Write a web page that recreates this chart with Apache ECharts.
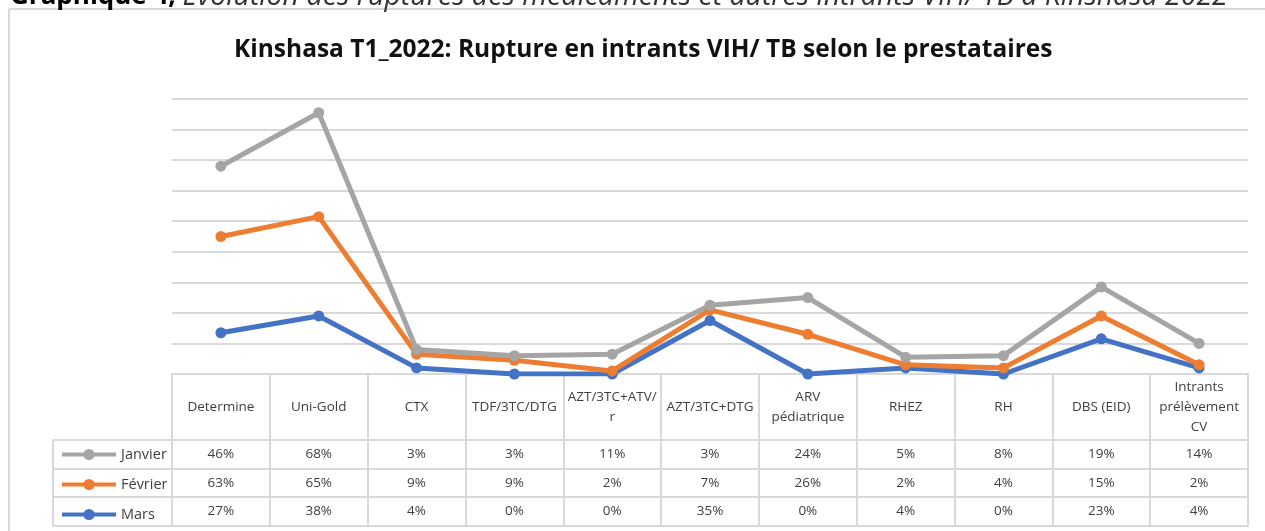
<!DOCTYPE html>
<html>
<head>
<meta charset="utf-8">
<script src="https://cdn.jsdelivr.net/npm/echarts@6/dist/echarts.min.js"></script>
<style>
  html, body { margin: 0; padding: 0; background: #fff; }
  #chart { width: 1265px; height: 531px; }
</style>
</head>
<body>
<div id="chart"></div>
<script>
// categories (header row of the data table)
const categories = ['Determine', 'Uni-Gold', 'CTX', 'TDF/3TC/DTG', 'AZT/3TC+ATV/\nr', 'AZT/3TC+DTG',
  'ARV\npédiatrique', 'RHEZ', 'RH', 'DBS (EID)', 'Intrants\nprélèvement\nCV']
// % de rupture par mois (lines are stacked: Mars, then Février, then Janvier)
const janvier = [46, 68, 3, 3, 11, 3, 24, 5, 8, 19, 14]
const fevrier = [63, 65, 9, 9, 2, 7, 26, 2, 4, 15, 2]
const mars = [27, 38, 4, 0, 0, 35, 0, 4, 0, 23, 4]
const yMax = 180
const yStep = 20

const chart = echarts.init(document.getElementById('chart'))

const border = '#D9D9D9'
const textColor = '#404040'
const tableFont = "'Open Sans', sans-serif"
const left = 172
const right = 17

// table rows: name, values, top, height
const rows = [
  {name: 'Janvier', data: janvier, top: 440, height: 29},
  {name: 'Février', data: fevrier, top: 469, height: 28},
  {name: 'Mars', data: mars, top: 497, height: 29}
]

const grids = [
  {left, right, top: 99, bottom: 157},
  {left, right, top: 374, height: 66}
]
rows.forEach(r => grids.push({left, right, top: r.top, height: r.height}))

const tableAxis = (idx, height, formatter) => ({
  type: 'category',
  gridIndex: idx,
  data: categories,
  position: 'bottom',
  boundaryGap: true,
  axisLine: {lineStyle: {color: border, width: 2}},
  axisTick: {show: true, inside: true, length: height, interval: 0, lineStyle: {color: border, width: 2}},
  axisLabel: {
    inside: true,
    interval: 0,
    margin: height / 2,
    verticalAlign: 'middle',
    lineHeight: 20,
    color: textColor,
    fontFamily: tableFont,
    fontSize: 13.5,
    formatter
  }
})

const xAxis = [
  {
    type: 'category',
    gridIndex: 0,
    data: categories,
    boundaryGap: true,
    axisLine: {lineStyle: {color: border, width: 2}},
    axisTick: {show: false},
    axisLabel: {show: false}
  },
  tableAxis(1, 66)
]
rows.forEach((r, k) => xAxis.push(tableAxis(k + 2, r.height, (v, i) => r.data[i] + '%')))

const yAxis = [
  {
    type: 'value',
    gridIndex: 0,
    min: 0,
    max: yMax,
    interval: yStep,
    axisLine: {show: false},
    axisTick: {show: false},
    axisLabel: {show: false},
    splitLine: {lineStyle: {color: border, width: 2}}
  }
]
for (let k = 1; k < grids.length; k++) yAxis.push({type: 'value', gridIndex: k, show: false})

const line = (name, data, color) => ({
  name,
  type: 'line',
  stack: 'total',
  data,
  symbol: 'circle',
  symbolSize: 11,
  itemStyle: {color},
  lineStyle: {color, width: 5}
})

const option = {
  animation: false,
  title: {
    text: 'Kinshasa T1_2022: Rupture en intrants VIH/ TB selon le prestataires',
    left: 229,
    top: 33,
    textStyle: {
      fontFamily: "'Open Sans', sans-serif",
      fontWeight: 'bold',
      fontSize: 24.5,
      color: '#111'
    }
  },
  legend: {
    data: ['Janvier', 'Février', 'Mars'],
    orient: 'vertical',
    left: 60,
    top: 447,
    padding: 0,
    itemWidth: 54,
    itemHeight: 14,
    itemGap: 15,
    lineStyle: {width: 4},
    textStyle: {color: textColor, fontFamily: tableFont, fontSize: 14.5}
  },
  grid: grids,
  xAxis,
  yAxis,
  series: [
    line('Mars', mars, '#4472C4'),
    line('Février', fevrier, '#ED7D31'),
    line('Janvier', janvier, '#A5A5A5')
  ],
  graphic: [
    // outer frame of the chart (left and top edges)
    {type: 'line', shape: {x1: 9, y1: 9, x2: 1265, y2: 9}, style: {stroke: border, lineWidth: 2}},
    {type: 'line', shape: {x1: 9, y1: 9, x2: 9, y2: 531}, style: {stroke: border, lineWidth: 2}},
    // legend column of the data table
    {type: 'line', shape: {x1: 53, y1: 440, x2: 53, y2: 526}, style: {stroke: border, lineWidth: 2}},
    {type: 'line', shape: {x1: 53, y1: 440, x2: 172, y2: 440}, style: {stroke: border, lineWidth: 2}},
    {type: 'line', shape: {x1: 53, y1: 469, x2: 172, y2: 469}, style: {stroke: border, lineWidth: 2}},
    {type: 'line', shape: {x1: 53, y1: 497, x2: 172, y2: 497}, style: {stroke: border, lineWidth: 2}},
    {type: 'line', shape: {x1: 53, y1: 526, x2: 172, y2: 526}, style: {stroke: border, lineWidth: 2}},
    // caption of the document, cut by the top of the picture
    {
      type: 'text',
      left: 10,
      top: -18,
      style: {
        text: '{b|Graphique 4,}  {i|Évolution des ruptures des médicaments et autres intrants VIH/ TB à Kinshasa 2022}',
        rich: {
          b: {fontFamily: "'Open Sans', sans-serif", fontWeight: 'bold', fontSize: 26, fill: '#000'},
          i: {fontFamily: "'Open Sans', sans-serif", fontStyle: 'italic', fontSize: 28.5, fill: '#333'}
        }
      }
    }
  ]
}

chart.setOption(option)
</script>
</body>
</html>
